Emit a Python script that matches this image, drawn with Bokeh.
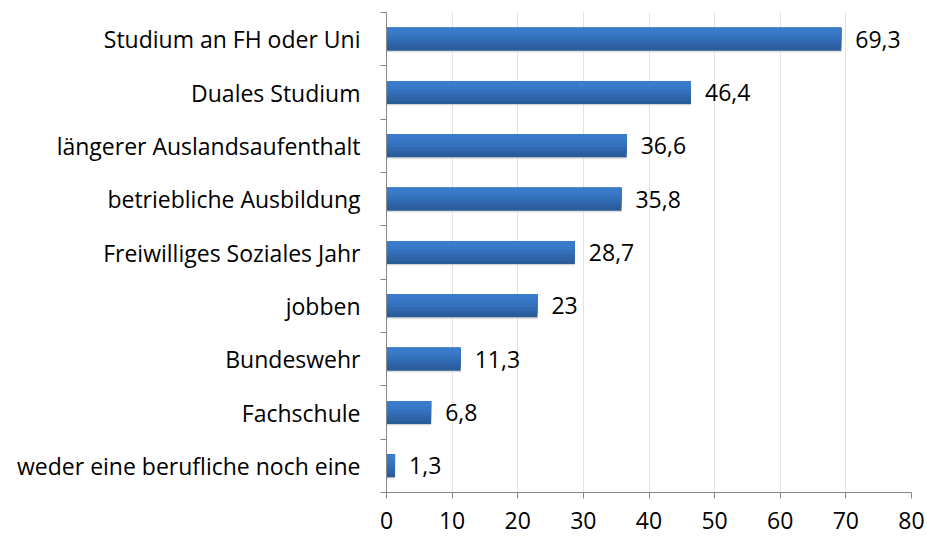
from bokeh.plotting import figure
from bokeh.models import ColumnDataSource, FixedTicker, LabelSet
from bokeh.core.properties import value
from bokeh.transform import dodge
from bokeh.embed import file_html
from bokeh.resources import INLINE

categories = ["Studium an FH oder Uni", "Duales Studium", "längerer Auslandsaufenthalt",
              "betriebliche Ausbildung", "Freiwilliges Soziales Jahr", "jobben",
              "Bundeswehr", "Fachschule", "weder eine berufliche noch eine"]
values = [69.3, 46.4, 36.6, 35.8, 28.7, 23, 11.3, 6.8, 1.3]
value_labels = ["69,3", "46,4", "36,6", "35,8", "28,7", "23", "11,3", "6,8", "1,3"]
x_ticks = [0, 10, 20, 30, 40, 50, 60, 70, 80]

n = len(categories)
ypos = [n - 1 - i for i in range(n)]
src = ColumnDataSource(dict(y=ypos, v=values, lab=value_labels, cat=categories))

FONT = "Open Sans"
FS = "23px"
BH = 0.43
p = figure(width=927, height=537, output_backend="svg", toolbar_location=None,
           x_range=(0, 80), y_range=(-0.5, n - 0.5),
           min_border_left=386, min_border_right=16, min_border_top=12, min_border_bottom=45)
p.outline_line_color = None
p.background_fill_color = "white"
p.border_fill_color = "white"

# soft shadow
p.hbar(y=dodge("y", -0.035), left=0, right="v", height=BH, source=src,
       fill_color="#c8c8c8", fill_alpha=0.35, line_color=None)
p.hbar(y=dodge("y", -0.02), left=0, right="v", height=BH, source=src,
       fill_color="#b0b0b0", fill_alpha=0.35, line_color=None)

# gradient approximation: layers aligned at the top, lighter toward the top
grad = [(1.00, "#2b5c9a"), (0.85, "#2e62a5"), (0.70, "#3169b0"),
        (0.55, "#3470ba"), (0.40, "#3776c3"), (0.25, "#3a7bcb")]
for frac, col in grad:
    h = BH * frac
    p.hbar(y=dodge("y", (BH - h) / 2), left=0, right="v", height=h, source=src,
           fill_color=col, line_color=None)

labels = LabelSet(x="v", y="y", text="lab", source=src, x_offset=14, y_offset=0,
                  text_font=value(FONT), text_font_size=FS, text_color="black",
                  text_baseline="middle", text_align="left")
p.add_layout(labels)

# x axis
p.xaxis.ticker = FixedTicker(ticks=x_ticks)
p.xaxis.axis_line_color = "#868686"
p.xaxis.major_tick_line_color = "#868686"
p.xaxis.major_tick_out = 6
p.xaxis.major_tick_in = 0
p.xaxis.minor_tick_line_color = None
p.xaxis.major_label_text_font = FONT
p.xaxis.major_label_text_font_size = FS
p.xaxis.major_label_text_color = "black"
p.xaxis.major_label_standoff = 13

# y axis
p.yaxis.ticker = FixedTicker(ticks=ypos, minor_ticks=[i - 0.5 for i in range(n + 1)])
p.yaxis.major_label_overrides = {y: c for y, c in zip(ypos, categories)}
p.yaxis.axis_line_color = "#868686"
p.yaxis.major_tick_line_color = None
p.yaxis.major_tick_out = 0
p.yaxis.major_tick_in = 0
p.yaxis.minor_tick_line_color = "#868686"
p.yaxis.minor_tick_out = 6
p.yaxis.minor_tick_in = 0
p.yaxis.major_label_text_font = FONT
p.yaxis.major_label_text_font_size = FS
p.yaxis.major_label_text_color = "black"
p.yaxis.major_label_standoff = 20

p.xgrid.ticker = FixedTicker(ticks=x_ticks)
p.xgrid.grid_line_color = "#e3e3e3"
p.ygrid.grid_line_color = None

open("out.html", "w").write(file_html(p, INLINE))
